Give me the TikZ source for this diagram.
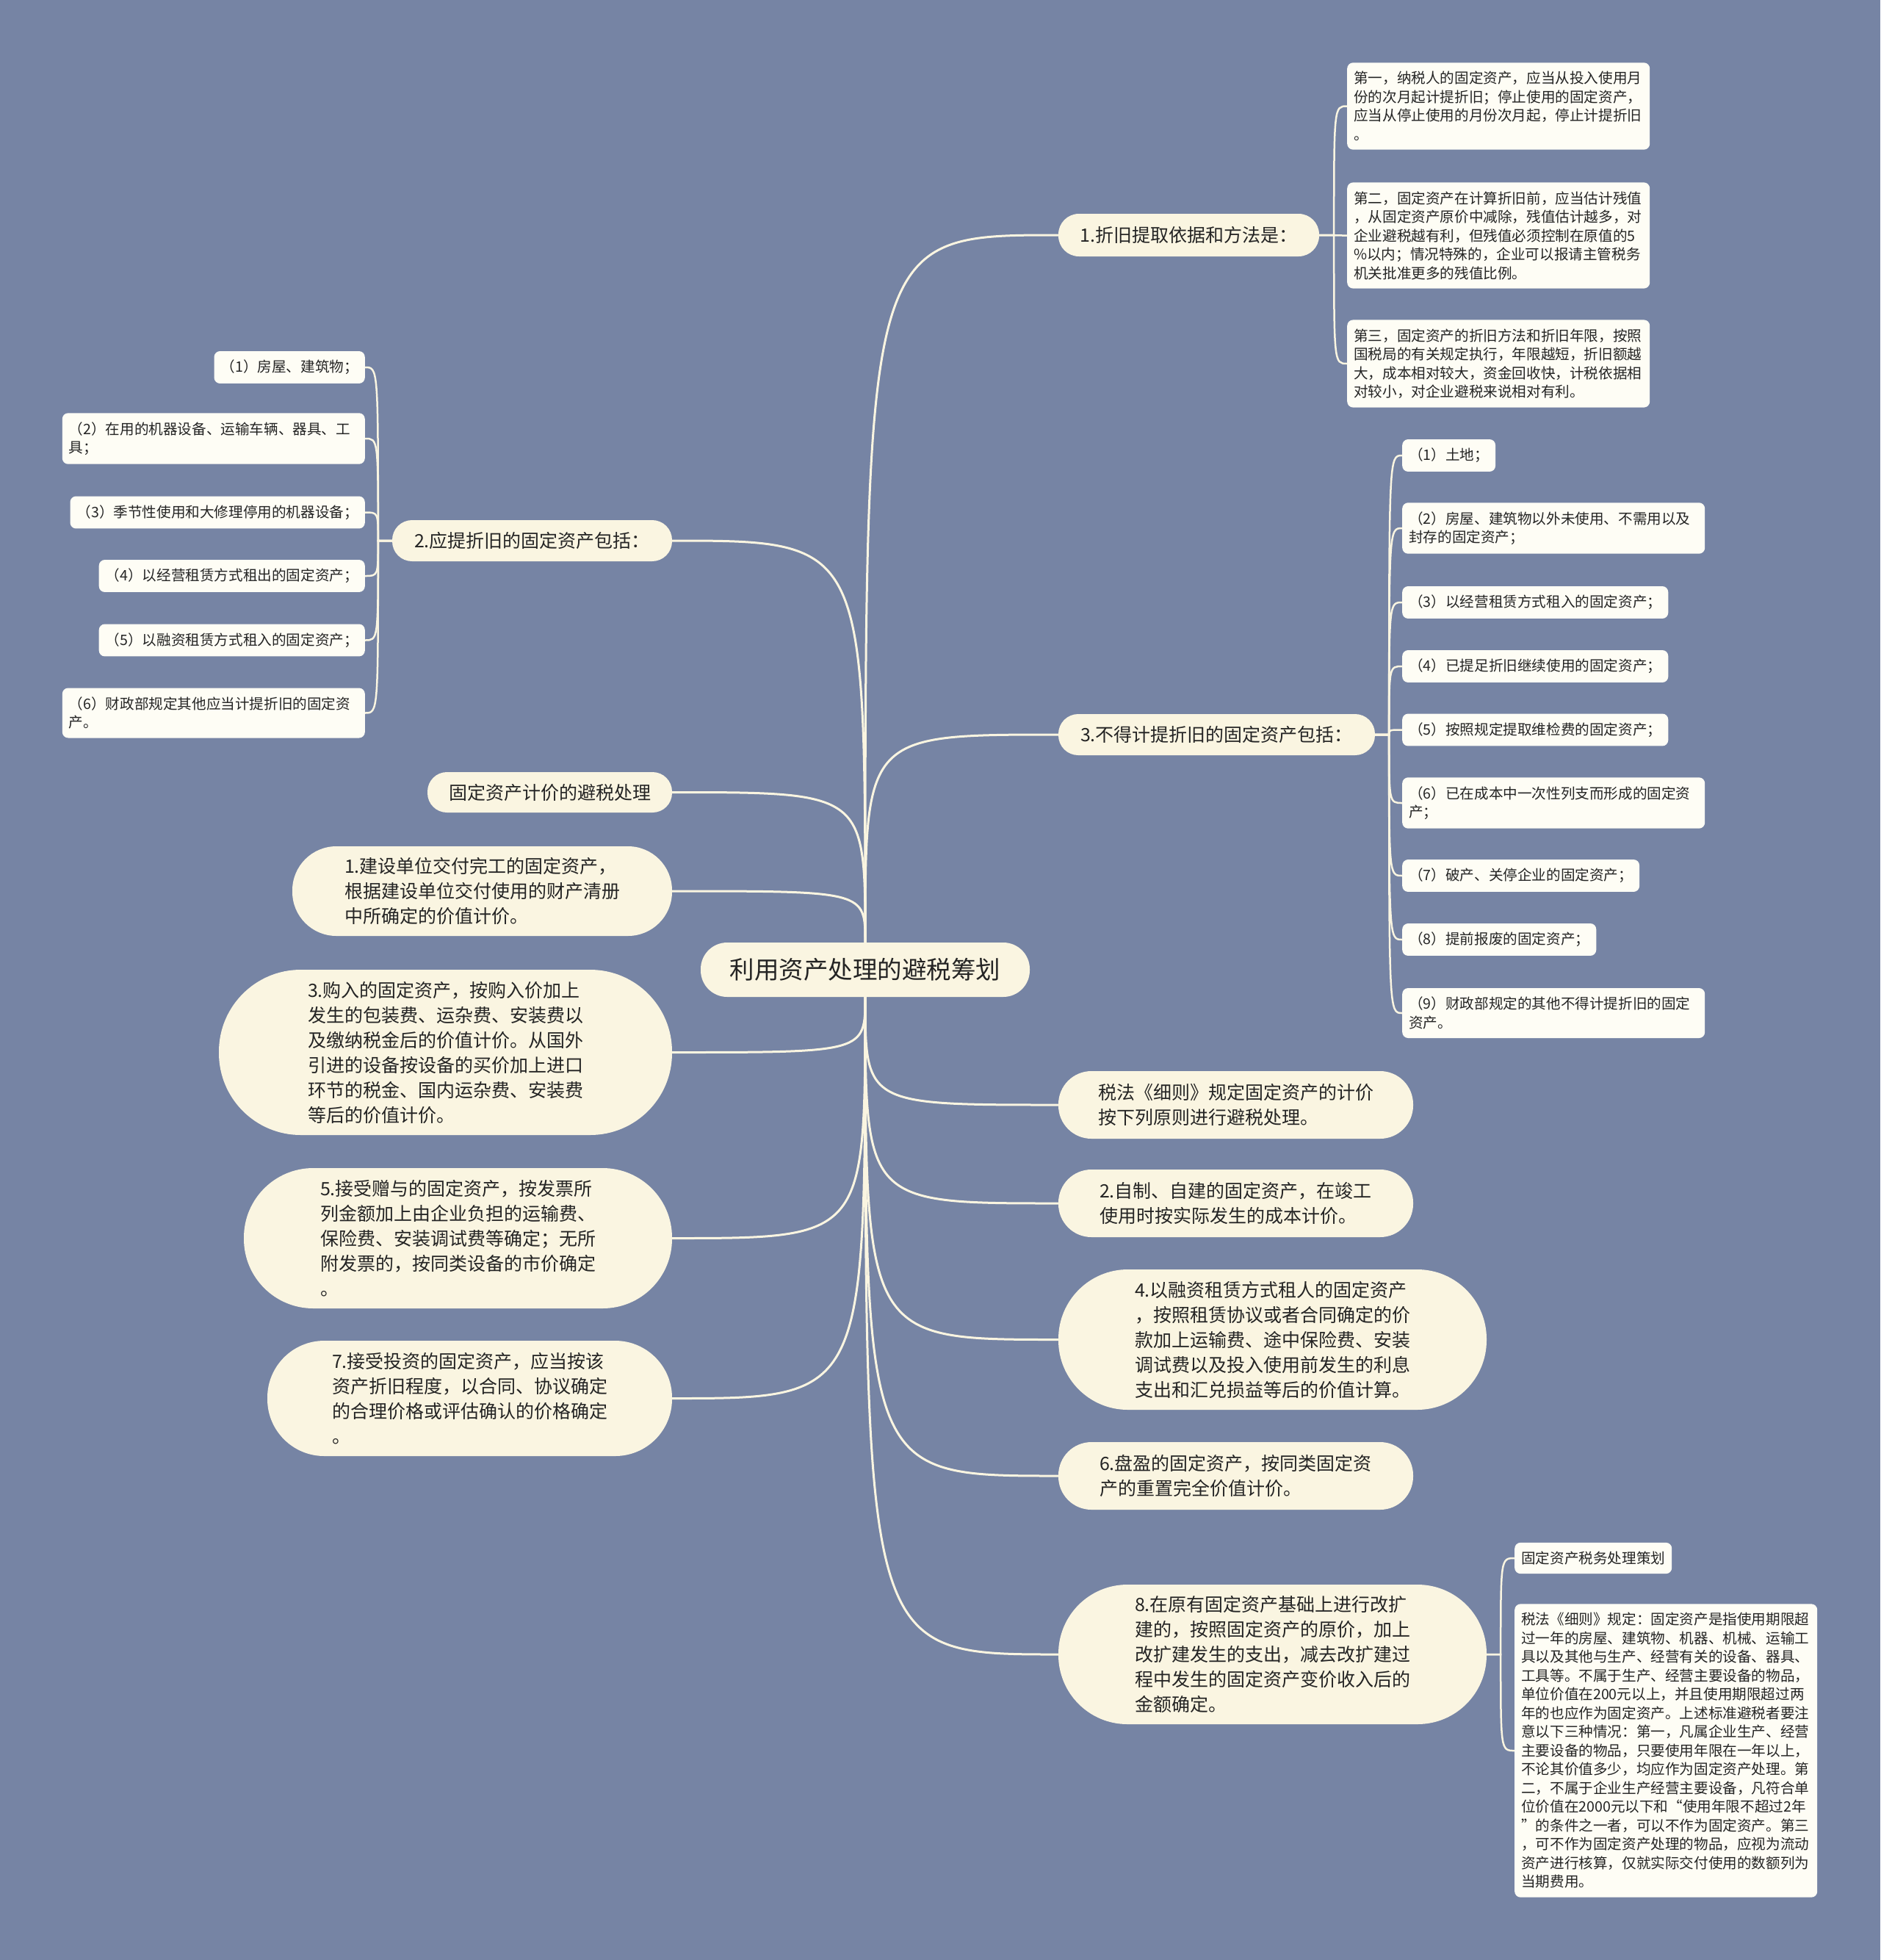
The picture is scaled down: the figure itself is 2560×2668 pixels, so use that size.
\documentclass[tikz,border=0pt]{standalone}
\usepackage{fontspec}
\newfontfamily\cjk{Noto Sans CJK SC}
\usepackage{tikz}
\usetikzlibrary{calc}
\definecolor{bgblue}{RGB}{118,132,164}
\definecolor{cream}{RGB}{250,245,225}
\definecolor{paper}{RGB}{254,253,245}
\definecolor{ink}{RGB}{36,36,36}
\tikzstyle{rootnode}=[fill=cream,text=ink,font=\cjk\fontsize{33.5}{40}\selectfont,minimum width=448pt,minimum height=74pt,rounded corners=36pt,inner sep=0pt]
\tikzstyle{topic}=[fill=cream,text=ink,font=\cjk\fontsize{25}{34}\selectfont,align=left,inner sep=0pt]
\tikzstyle{pill}=[minimum height=#1pt,rounded corners=#1*0.5pt-1pt]
\tikzstyle{leaf}=[fill=paper,text=ink,font=\cjk\fontsize{19.6}{25.5}\selectfont,align=left,inner xsep=9pt,inner ysep=12pt,rounded corners=8pt]
\tikzstyle{wideleaf}=[leaf,text width=394pt]
\tikzstyle{branch}=[draw=cream,line width=3pt]
\tikzstyle{twig}=[draw=cream,line width=2.5pt]

\begin{document}
\begin{tikzpicture}[x=1pt,y=-1pt]

	\useasboundingbox (0,0) rectangle (2560,2668);
	\fill[bgblue] (0,0) rectangle (2560,2668);

	\def\ax{1834};
	\def\bx{1909};
	\def\cx{497};
	\def\dx{2062};

%root
	\node[rootnode] (root) at (1178,1320) {利用资产处理的避税筹划};

%right topics
	\node[topic,pill=58,minimum width=355pt] (n1) at (1618.5,320) {1.折旧提取依据和方法是：};
	\node[topic,pill=56,minimum width=431pt] (n3) at (1656.5,1000) {3.不得计提折旧的固定资产包括：};
	\node[topic,pill=92,minimum width=483pt] (rule) at (1682.5,1504) {税法《细则》规定固定资产的计价\\按下列原则进行避税处理。};
	\node[topic,pill=92,minimum width=483pt] (p2) at (1682.5,1638) {2.自制、自建的固定资产，在竣工\\使用时按实际发生的成本计价。};
	\node[topic,pill=191,minimum width=583pt] (p4) at (1732.5,1823.5) {4.以融资租赁方式租人的固定资产\\，按照租赁协议或者合同确定的价\\款加上运输费、途中保险费、安装\\调试费以及投入使用前发生的利息\\支出和汇兑损益等后的价值计算。};
	\node[topic,pill=92,minimum width=483pt] (p6) at (1682.5,2009) {6.盘盈的固定资产，按同类固定资\\产的重置完全价值计价。};
	\node[topic,pill=190,minimum width=583pt] (p8) at (1732.5,2252) {8.在原有固定资产基础上进行改扩\\建的，按照固定资产的原价，加上\\改扩建发生的支出，减去改扩建过\\程中发生的固定资产变价收入后的\\金额确定。};

%left topics
	\node[topic,pill=56,minimum width=381pt] (n2) at (724.5,736) {2.应提折旧的固定资产包括：};
	\node[topic,pill=55,minimum width=333pt] (pricing) at (748.5,1078.5) {固定资产计价的避税处理};
	\node[topic,pill=122,minimum width=517pt] (p1) at (656.5,1213) {1.建设单位交付完工的固定资产，\\根据建设单位交付使用的财产清册\\中所确定的价值计价。};
	\node[topic,pill=225,minimum width=617pt] (p3) at (606.5,1432.5) {3.购入的固定资产，按购入价加上\\发生的包装费、运杂费、安装费以\\及缴纳税金后的价值计价。从国外\\引进的设备按设备的买价加上进口\\环节的税金、国内运杂费、安装费\\等后的价值计价。};
	\node[topic,pill=191,minimum width=583pt] (p5) at (623.5,1685.5) {5.接受赠与的固定资产，按发票所\\列金额加上由企业负担的运输费、\\保险费、安装调试费等确定；无所\\附发票的，按同类设备的市价确定\\。};
	\node[topic,pill=157,minimum width=551pt] (p7) at (639.5,1903.5) {7.接受投资的固定资产，应当按该\\资产折旧程度，以合同、协议确定\\的合理价格或评估确认的价格确定\\。};

%leaves of n1
	\foreach \name/\y/\txt in {{a1/144.5/第一，纳税人的固定资产，应当从投入使用月\\份的次月起计提折旧；停止使用的固定资产，\\应当从停止使用的月份次月起，停止计提折旧\\。},
		{a2/320.5/第二，固定资产在计算折旧前，应当估计残值\\，从固定资产原价中减除，残值估计越多，对\\企业避税越有利，但残值必须控制在原值的5\\\%以内；情况特殊的，企业可以报请主管税务\\机关批准更多的残值比例。},
		{a3/495/第三，固定资产的折旧方法和折旧年限，按照\\国税局的有关规定执行，年限越短，折旧额越\\大，成本相对较大，资金回收快，计税依据相\\对较小，对企业避税来说相对有利。}}
		\node[wideleaf,anchor=west] (\name) at (\ax,\y) {\txt};

%leaves of n3
	\foreach \name/\y/\txt in {{b1/620/（1）土地；},
		{b3/820/（3）以经营租赁方式租入的固定资产；},
		{b4/907/（4）已提足折旧继续使用的固定资产；},
		{b5/993.5/（5）按照规定提取维检费的固定资产；},
		{b7/1192/（7）破产、关停企业的固定资产；},
		{b8/1279/（8）提前报废的固定资产；}}
		\node[leaf,anchor=west] (\name) at (\bx,\y) {\txt};
	\foreach \name/\y/\txt in {{b2/719/（2）房屋、建筑物以外未使用、不需用以及\\封存的固定资产；},
		{b6/1093/（6）已在成本中一次性列支而形成的固定资\\产；},
		{b9/1379/（9）财政部规定的其他不得计提折旧的固定\\资产。}}
		\node[wideleaf,anchor=west] (\name) at (\bx,\y) {\txt};

%leaves of n2
	\foreach \name/\y/\txt in {{c1/500/（1）房屋、建筑物；},
		{c3/697.5/（3）季节性使用和大修理停用的机器设备；},
		{c4/784/（4）以经营租赁方式租出的固定资产；},
		{c5/871.5/（5）以融资租赁方式租入的固定资产；}}
		\node[leaf,anchor=east] (\name) at (\cx,\y) {\txt};
	\foreach \name/\y/\txt in {{c2/597/（2）在用的机器设备、运输车辆、器具、工\\具；},
		{c6/970.5/（6）财政部规定其他应当计提折旧的固定资\\产。}}
		\node[wideleaf,anchor=east] (\name) at (\cx,\y) {\txt};

%leaves of p8
	\node[leaf,anchor=west] (d1) at (\dx,2121) {固定资产税务处理策划};
	\node[wideleaf,anchor=west] (d2) at (\dx,2383) {税法《细则》规定：固定资产是指使用期限超\\过一年的房屋、建筑物、机器、机械、运输工\\具以及其他与生产、经营有关的设备、器具、\\工具等。不属于生产、经营主要设备的物品，\\单位价值在200元以上，并且使用期限超过两\\年的也应作为固定资产。上述标准避税者要注\\意以下三种情况：第一，凡属企业生产、经营\\主要设备的物品，只要使用年限在一年以上，\\不论其价值多少，均应作为固定资产处理。第\\二，不属于企业生产经营主要设备，凡符合单\\位价值在2000元以下和“使用年限不超过2年\\”的条件之一者，可以不作为固定资产。第三\\，可不作为固定资产处理的物品，应视为流动\\资产进行核算，仅就实际交付使用的数额列为\\当期费用。};

	% Connect root with topics
	\foreach \dest in {n1,n3}
		\draw[branch] (root.north) .. controls (root.north |- \dest.west) .. (\dest.west);
	\foreach \dest in {rule,p2,p4,p6,p8}
		\draw[branch] (root.south) .. controls (root.south |- \dest.west) .. (\dest.west);
	\foreach \dest in {n2,pricing,p1}
		\draw[branch] (root.north) .. controls (root.north |- \dest.east) .. (\dest.east);
	\foreach \dest in {p3,p5,p7}
		\draw[branch] (root.south) .. controls (root.south |- \dest.east) .. (\dest.east);

	% Connect topics with leaves
	\coordinate (n1t) at ($(n1.east)+(20,0)$);
	\foreach \dest in {a1,a2,a3}
		\draw[twig] (n1.east) -- (n1t) .. controls (n1t |- \dest.west) .. (\dest.west);
	\coordinate (n3t) at ($(n3.east)+(19,0)$);
	\foreach \dest in {b1,b2,b3,b4,b5,b6,b7,b8,b9}
		\draw[twig] (n3.east) -- (n3t) .. controls (n3t |- \dest.west) .. (\dest.west);
	\coordinate (n2t) at ($(n2.west)+(-19,0)$);
	\foreach \dest in {c1,c2,c3,c4,c5,c6}
		\draw[twig] (n2.west) -- (n2t) .. controls (n2t |- \dest.east) .. (\dest.east);
	\coordinate (p8t) at ($(p8.east)+(19,0)$);
	\foreach \dest in {d1,d2}
		\draw[twig] (p8.east) -- (p8t) .. controls (p8t |- \dest.west) .. (\dest.west);

\end{tikzpicture}
\end{document}
